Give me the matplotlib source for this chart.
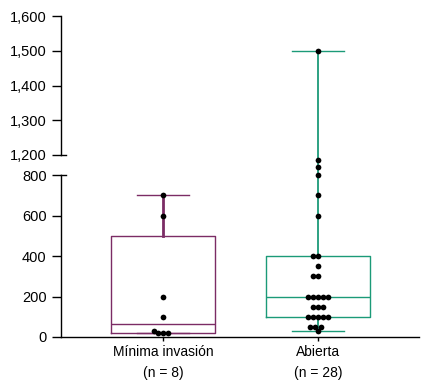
import matplotlib.pyplot as plt
import numpy as np

plt.rcParams['font.family'] = ['Liberation Sans', 'DejaVu Sans']

groups = ['Mínima invasión\n(n = 8)', 'Abierta\n(n = 28)']
minima = [20, 20, 20, 30, 100, 200, 600, 700]
abierta = [30, 50, 50, 50, 100, 100, 100, 100, 100, 150, 150, 150,
           200, 200, 200, 200, 200, 300, 300, 350, 400, 400,
           600, 700, 800, 840, 875, 1500]
colors = ['#7b2c65', '#1b9a78']
whisker_lw = [2.0, 1.3]
lower_ticks = [0, 200, 400, 600, 800]
upper_ticks = [1200, 1300, 1400, 1500, 1600]
split = 1200


def box_stats(vals):
    q1, med, q3 = np.percentile(vals, [25, 50, 75], method='weibull')
    return dict(med=med, q1=q1, q3=q3, whislo=min(vals), whishi=max(vals), fliers=[])


def swarm(ax, x0, vals, diam):
    # simple beeswarm in pixel space, like seaborn does it
    placed = []
    xs = []
    for v in vals:
        px, py = ax.transData.transform((x0, v))
        cands = [px]
        for qx, qy in placed:
            dy = abs(qy - py)
            if dy < diam:
                dx = np.sqrt(diam ** 2 - dy ** 2)
                cands += [qx - dx, qx + dx]
        ok = [c for c in cands
              if all((c - qx) ** 2 + (py - qy) ** 2 >= diam ** 2 - 1e-6 for qx, qy in placed)]
        best = min(ok, key=lambda c: abs(c - px))
        placed.append((best, py))
        xs.append(ax.transData.inverted().transform((best, py))[0])
    return np.array(xs)


fig = plt.figure(figsize=(4.25, 3.9), dpi=100)
ax_lo = fig.add_axes([0.1435, 0.1359, 0.8424, 0.4667])
ax_up = fig.add_axes([0.1435, 0.6026, 0.8424, 0.383])

for ax in (ax_lo, ax_up):
    ax.set_xlim(-0.66, 1.65)
    for s in ('top', 'right'):
        ax.spines[s].set_visible(False)
    ax.spines['left'].set_linewidth(1.0)
    ax.spines['bottom'].set_linewidth(1.0)
    ax.tick_params(axis='y', direction='out', length=6.3, width=1.0, pad=4, labelsize=10.5)
ax_lo.set_ylim(0, 899)
ax_up.set_ylim(split, 1630)

for i, (vals, col) in enumerate(zip([minima, abierta], colors)):
    st = box_stats(vals)
    for ax in (ax_lo, ax_up):
        ax.bxp([st], positions=[i], widths=0.67, showfliers=False,
               boxprops=dict(color=col, lw=1.0),
               medianprops=dict(color=col, lw=1.0),
               whiskerprops=dict(color=col, lw=whisker_lw[i]),
               capprops=dict(color=col, lw=1.0), capwidths=0.335)

fig.canvas.draw()
for i, vals in enumerate([minima, abierta]):
    vals = np.sort(vals)
    xs = swarm(ax_lo, i, vals, 5.0)
    lo = vals < split
    ax_lo.scatter(xs[lo], vals[lo], s=17, color='black', lw=0, zorder=5, clip_on=False)
    ax_up.scatter(xs[~lo], vals[~lo], s=17, color='black', lw=0, zorder=5, clip_on=False)

ax_lo.set_yticks(lower_ticks)
ax_lo.spines['left'].set_bounds(lower_ticks[0], lower_ticks[-1])
ax_lo.set_xticks([0, 1])
ax_lo.set_xticklabels(groups, fontsize=10, linespacing=1.6)
ax_lo.tick_params(axis='x', direction='out', length=3, width=1.0, pad=3)

ax_up.set_yticks(upper_ticks)
ax_up.set_yticklabels(['{:,}'.format(t) for t in upper_ticks])
ax_up.spines['left'].set_bounds(upper_ticks[0], upper_ticks[-1])
ax_up.spines['bottom'].set_visible(False)
ax_up.set_xticks([])
ax_up.patch.set_alpha(0)

# break marks at the axis cut
ax_up.plot([0, 0.014], [split, split], transform=ax_up.get_yaxis_transform(),
           color='black', lw=1.0, clip_on=False)
ax_lo.plot([0, 0.014], [lower_ticks[-1]] * 2, transform=ax_lo.get_yaxis_transform(),
           color='black', lw=1.0, clip_on=False)

fig.savefig('out.png', dpi=100)
